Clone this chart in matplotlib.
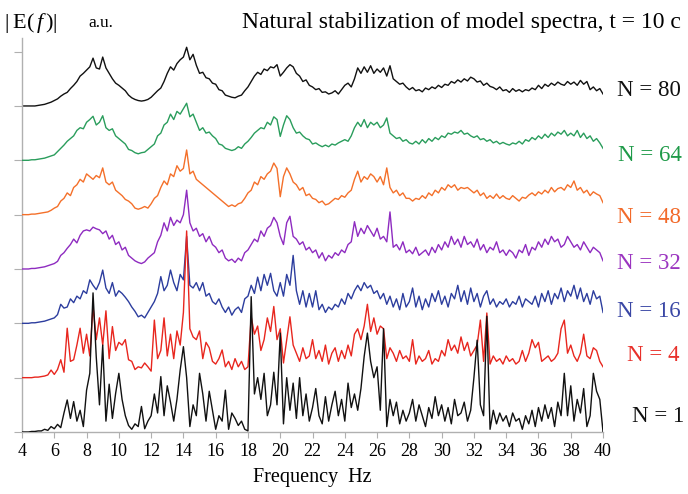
import numpy as np
import matplotlib
matplotlib.use("Agg")
import matplotlib.pyplot as plt

# frequency grid, 0.2 Hz step from 4 to 40 Hz
freq = np.round(np.arange(4.0, 40.01, 0.2), 1)

# spectra (a.u.), one row per 2 Hz
n1 = [
    0, 0, 0, 0.01, 0.01, 0.02, 0.02, 0.05, 0.03, 0.1,
    0.06, 0.14, 0.08, 0.35, 0.59, 0.25, 0.56, 0.2, 0.4, 0.1,
    0.77, 1.08, 2.56, 1.38, 0.5, 1.6, 0.2, 0.88, 0.25, 0.71,
    1.08, 0.6, 0.3, 0.12, 0.05, 0.15, 0.1, 0.47, 0.06, 0.2,
    0.3, 0.7, 0.35, 1.02, 0.3, 0.85, 0.55, 0.2, 0.6, 1.14,
    1.57, 1.0, 0.1, 0.5, 0.3, 1.08, 0.7, 0.2, 0.75, 0.4,
    0.05, 0.3, 0.2, 0.77, 0.05, 0.35, 0.25, 0.12, 0.2, 0.05,
    0.02, 2.49, 0.7, 1.0, 0.6, 1.08, 0.3, 0.5, 1.1, 0.5,
    1.82, 0.15, 1.0, 0.4, 0.9, 0.25, 1.0, 0.3, 0.7, 0.2,
    0.45, 0.8, 0.3, 0.15, 0.65, 0.2, 0.5, 0.75, 0.3, 0.6,
    0.2, 0.9, 0.45, 0.7, 0.4, 0.8, 1.39, 1.82, 1.3, 1.0,
    1.2, 0.4, 1.9, 0.1, 0.6, 0.3, 0.55, 0.15, 0.4, 0.2,
    0.35, 0.6, 0.2, 0.5, 0.3, 0.1, 0.45, 0.25, 0.65, 0.3,
    0.5, 0.2, 0.45, 0.15, 0.6, 0.3, 0.35, 0.55, 0.2, 0.4,
    1.0, 1.69, 0.5, 0.3, 2.13, 0.05, 0.4, 0.15, 0.35, 0.2,
    0.3, 0.1, 0.35, 0.2, 0.25, 0.05, 0.3, 0.15, 0.4, 0.1,
    0.45, 0.2, 0.5, 0.25, 0.45, 0.1, 0.55, 0.3, 1.08, 0.3,
    0.85, 0.2, 0.6, 0.35, 0.8, 0.1, 0.3, 1.08, 0.75, 0.6,
    0.0,
]
n4 = [
    0, 0, 0, 0, 0.01, 0.01, 0.02, 0.03, 0.05, 0.14,
    0.06, 0.15, 0.33, 0.1, 0.91, 0.3, 0.33, 0.6, 0.91, 0.45,
    0.8, 0.4, 1.31, 0.7, 1.1, 0.6, 1.23, 0.35, 0.94, 0.5,
    0.65, 0.6, 0.7, 0.33, 0.3, 0.15, 0.2, 0.18, 0.27, 0.2,
    0.12, 1.06, 0.35, 0.5, 1.1, 0.4, 0.8, 0.35, 0.86, 0.6,
    1.2, 2.7, 0.9, 0.75, 0.7, 0.86, 0.35, 0.65, 0.55, 0.3,
    0.25, 0.35, 0.51, 0.2, 0.3, 0.15, 0.35, 0.2, 0.3, 0.15,
    0.2, 1.12, 0.8, 0.95, 0.5, 0.7, 1.1, 0.85, 1.31, 0.7,
    0.9, 0.27, 0.7, 1.12, 0.6, 0.45, 0.3, 0.55, 0.35, 0.4,
    0.7, 0.35, 0.5, 0.3, 0.6, 0.25, 0.45, 0.55, 0.3, 0.5,
    0.35, 0.6, 0.4, 0.8, 0.9, 0.7, 0.95, 1.35, 0.85, 1.1,
    0.8, 0.95, 0.9, 0.35, 0.55, 0.45, 0.3, 0.5, 0.35, 0.4,
    0.3, 0.7, 0.25, 0.4, 0.3, 0.35, 0.5, 0.25, 0.35, 0.3,
    0.5, 0.4, 0.7, 0.5, 0.6, 0.45, 0.75, 0.5, 0.65, 0.4,
    0.5, 0.6, 1.06, 0.3, 1.19, 0.25, 0.4, 0.3, 0.35, 0.25,
    0.4, 0.3, 0.35, 0.25, 0.3, 0.5, 0.3, 0.45, 0.7, 0.55,
    0.65, 0.3, 0.35, 0.4, 0.3, 0.35, 0.45, 0.9, 1.06, 0.45,
    0.6, 0.4, 0.3, 0.45, 0.8, 0.4, 0.35, 0.55, 0.5, 0.3,
    0.2,
]
n16 = [
    0, 0, 0, 0.01, 0.01, 0.02, 0.03, 0.04, 0.06, 0.08,
    0.1, 0.16, 0.35, 0.28, 0.3, 0.45, 0.38, 0.5, 0.45, 0.6,
    0.55, 0.8, 0.7, 0.62, 0.75, 0.98, 0.65, 0.55, 0.75, 0.5,
    0.6, 0.55, 0.48, 0.4, 0.3, 0.22, 0.12, 0.15, 0.1, 0.2,
    0.3, 0.4, 0.55, 0.86, 0.6, 0.7, 0.98, 0.75, 0.6, 0.9,
    0.8, 1.6, 0.7, 0.65, 0.75, 0.6, 0.75, 0.5, 0.55, 0.4,
    0.35, 0.45, 0.3, 0.2, 0.3, 0.15, 0.25, 0.3, 0.2, 0.45,
    0.5, 0.7, 0.55, 0.85, 0.6, 0.9, 0.7, 0.92, 0.6, 0.5,
    0.75, 0.5, 0.9, 0.7, 1.25, 0.6, 0.35, 0.6, 0.3, 0.55,
    0.3, 0.6, 0.25, 0.35, 0.2, 0.3, 0.25, 0.35, 0.3, 0.45,
    0.35, 0.55, 0.45, 0.6, 0.7, 0.6, 0.75, 0.65, 0.7, 0.55,
    0.6, 0.45, 0.55, 0.35, 0.5, 0.3, 0.45, 0.25, 0.55, 0.3,
    0.4, 0.65, 0.3, 0.5, 0.25, 0.45, 0.3, 0.55, 0.4, 0.6,
    0.35, 0.5, 0.3, 0.55, 0.45, 0.7, 0.4, 0.6, 0.35, 0.65,
    0.4, 0.55, 0.3, 0.5, 0.6, 0.35, 0.45, 0.3, 0.4, 0.35,
    0.45, 0.3, 0.4, 0.35, 0.5, 0.3, 0.45, 0.4, 0.35, 0.5,
    0.3, 0.55, 0.4, 0.6, 0.35, 0.55, 0.45, 0.65, 0.4, 0.6,
    0.5, 0.7, 0.45, 0.65, 0.4, 0.55, 0.35, 0.6, 0.45, 0.5,
    0.2,
]
n32 = [
    0, 0, 0, 0.01, 0.01, 0.02, 0.03, 0.04, 0.06, 0.08,
    0.1, 0.14, 0.25, 0.3, 0.38, 0.45, 0.55, 0.48, 0.62, 0.7,
    0.72, 0.7, 0.77, 0.74, 0.72, 0.65, 0.7, 0.55, 0.62, 0.45,
    0.5, 0.35, 0.4, 0.25, 0.2, 0.15, 0.12, 0.1, 0.13, 0.2,
    0.25, 0.3, 0.5, 0.62, 0.85, 0.7, 0.95, 0.8, 0.9, 0.85,
    1.0, 1.45, 0.85, 0.7, 0.75, 0.6, 0.65, 0.5, 0.6, 0.45,
    0.4, 0.3, 0.35, 0.2, 0.15, 0.18, 0.12, 0.2, 0.15, 0.3,
    0.35, 0.45, 0.55, 0.5, 0.7, 0.6, 0.75, 0.8, 0.95, 0.85,
    0.6, 0.45, 0.85, 0.97, 0.6, 0.55, 0.45, 0.5, 0.35, 0.4,
    0.3, 0.35, 0.2, 0.3, 0.15, 0.25, 0.2, 0.3, 0.25, 0.35,
    0.3, 0.45, 0.5, 0.87, 0.6, 0.75, 0.65, 0.8, 0.7, 0.6,
    0.75, 0.55, 0.6, 0.5, 1.05, 0.4, 0.45, 0.35, 0.5, 0.3,
    0.35, 0.28, 0.4, 0.25, 0.3, 0.35, 0.25, 0.4, 0.3, 0.45,
    0.35, 0.5, 0.4, 0.6, 0.45, 0.55, 0.4, 0.6, 0.45, 0.5,
    0.4, 0.55, 0.35, 0.45, 0.3, 0.4, 0.35, 0.5, 0.3, 0.35,
    0.25, 0.35, 0.3, 0.2, 0.35, 0.3, 0.45, 0.25, 0.4, 0.35,
    0.5, 0.4, 0.55, 0.45, 0.6, 0.5, 0.55, 0.4, 0.45, 0.6,
    0.5, 0.4, 0.45, 0.35, 0.5, 0.4, 0.3, 0.4, 0.35, 0.3,
    0.15,
]
n48 = [
    0, 0, 0, 0.01, 0.01, 0.02, 0.03, 0.04, 0.05, 0.08,
    0.12, 0.15, 0.25, 0.3, 0.4, 0.35, 0.5, 0.55, 0.65, 0.6,
    0.75, 0.7, 0.65, 0.72, 0.68, 0.86, 0.6, 0.55, 0.6, 0.45,
    0.4, 0.35, 0.28, 0.25, 0.2, 0.12, 0.1, 0.12, 0.15, 0.12,
    0.2, 0.3, 0.35, 0.5, 0.62, 0.55, 0.75, 0.7, 0.9, 0.8,
    0.85, 1.19, 0.75, 0.8, 0.65, 0.6, 0.55, 0.5, 0.45, 0.4,
    0.35, 0.3, 0.25, 0.2, 0.15, 0.18, 0.15, 0.2, 0.22, 0.3,
    0.4, 0.45, 0.6, 0.55, 0.7, 0.65, 0.75, 0.8, 0.95, 0.85,
    0.33, 0.7, 0.86, 0.75, 0.6, 0.55, 0.45, 0.5, 0.35, 0.38,
    0.3, 0.28, 0.22, 0.25, 0.18, 0.2, 0.25, 0.3, 0.28, 0.35,
    0.32, 0.4, 0.45, 0.65, 0.8, 0.6, 0.7, 0.65, 0.75, 0.7,
    0.6, 0.7, 0.55, 0.86, 0.5, 0.4, 0.45, 0.35, 0.4, 0.3,
    0.3, 0.25, 0.3, 0.28, 0.35, 0.3, 0.4, 0.35, 0.45, 0.4,
    0.5, 0.45, 0.55, 0.5, 0.55, 0.45, 0.5, 0.48, 0.5, 0.45,
    0.4, 0.45, 0.35, 0.4, 0.3, 0.35, 0.3, 0.38, 0.3, 0.35,
    0.3, 0.28, 0.35, 0.3, 0.25, 0.32, 0.3, 0.36, 0.4, 0.35,
    0.42, 0.38, 0.45, 0.4, 0.5, 0.42, 0.48, 0.5, 0.45, 0.55,
    0.5, 0.62, 0.45, 0.5, 0.4, 0.45, 0.35, 0.42, 0.38, 0.35,
    0.22,
]
n64 = [
    0, 0, 0, 0.01, 0.01, 0.02, 0.03, 0.04, 0.06, 0.08,
    0.1, 0.16, 0.22, 0.28, 0.35, 0.4, 0.45, 0.55, 0.6, 0.58,
    0.7, 0.75, 0.81, 0.65, 0.7, 0.82, 0.6, 0.55, 0.58, 0.45,
    0.4, 0.35, 0.3, 0.2, 0.18, 0.14, 0.12, 0.14, 0.15, 0.2,
    0.25, 0.3, 0.45, 0.5, 0.65, 0.7, 0.85, 0.75, 0.9, 0.85,
    0.95, 1.05, 0.8, 0.85, 0.7, 0.55, 0.6, 0.5, 0.52, 0.45,
    0.4, 0.3, 0.28, 0.22, 0.2, 0.18, 0.2, 0.25, 0.22, 0.3,
    0.35, 0.42, 0.5, 0.55, 0.6, 0.58, 0.7, 0.65, 0.8, 0.75,
    0.44, 0.65, 0.82, 0.75, 0.6, 0.5, 0.52, 0.45, 0.4, 0.38,
    0.3, 0.32, 0.28, 0.25, 0.28, 0.25, 0.3, 0.28, 0.32, 0.35,
    0.38, 0.35, 0.45, 0.6, 0.7, 0.62, 0.75, 0.6, 0.7, 0.65,
    0.7, 0.6, 0.65, 0.78, 0.5, 0.45, 0.4, 0.42, 0.35, 0.38,
    0.32, 0.3, 0.35, 0.3, 0.38, 0.32, 0.4, 0.35, 0.42, 0.38,
    0.45, 0.42, 0.5, 0.48, 0.52, 0.5, 0.55, 0.48, 0.5, 0.45,
    0.42, 0.45, 0.38, 0.4, 0.35, 0.38, 0.32, 0.35, 0.3, 0.33,
    0.3, 0.28, 0.32, 0.3, 0.35, 0.3, 0.38, 0.35, 0.42, 0.38,
    0.45, 0.4, 0.48, 0.42, 0.5, 0.45, 0.52, 0.48, 0.55, 0.45,
    0.5, 0.45, 0.55, 0.42, 0.5, 0.4, 0.45, 0.35, 0.4, 0.32,
    0.22,
]
n80 = [
    0, 0, 0, 0, 0, 0.01, 0.02, 0.03, 0.05, 0.07,
    0.1, 0.13, 0.18, 0.22, 0.25, 0.32, 0.38, 0.45, 0.55, 0.6,
    0.66, 0.72, 0.88, 0.7, 0.68, 0.9, 0.7, 0.6, 0.5, 0.42,
    0.38, 0.33, 0.28, 0.2, 0.15, 0.12, 0.1, 0.09, 0.1, 0.12,
    0.16, 0.22, 0.28, 0.33, 0.45, 0.6, 0.72, 0.66, 0.78, 0.85,
    0.9, 1.08, 0.85, 0.95, 0.75, 0.6, 0.62, 0.52, 0.5, 0.42,
    0.4, 0.3, 0.28, 0.2, 0.18, 0.16, 0.15, 0.18, 0.2, 0.28,
    0.35, 0.45, 0.55, 0.62, 0.58, 0.68, 0.65, 0.72, 0.7, 0.76,
    0.55, 0.62, 0.7, 0.76, 0.72, 0.6, 0.55, 0.45, 0.48, 0.38,
    0.35, 0.3, 0.32, 0.25, 0.26, 0.22, 0.24, 0.28, 0.22, 0.3,
    0.38, 0.42, 0.35, 0.5, 0.7, 0.6, 0.72, 0.62, 0.74, 0.6,
    0.68, 0.62, 0.7, 0.55, 0.74, 0.5, 0.45, 0.4, 0.42, 0.35,
    0.3, 0.34, 0.28, 0.3, 0.26, 0.33, 0.3, 0.35, 0.32, 0.38,
    0.34, 0.4, 0.38, 0.45, 0.42, 0.48, 0.44, 0.5, 0.46, 0.53,
    0.5, 0.44, 0.46, 0.38, 0.42, 0.36, 0.34, 0.3, 0.35, 0.28,
    0.3, 0.25, 0.32, 0.27, 0.3, 0.26, 0.3, 0.28, 0.33, 0.3,
    0.38, 0.32, 0.4, 0.36, 0.42, 0.38, 0.44, 0.4, 0.38, 0.45,
    0.4, 0.44, 0.38, 0.47, 0.4, 0.45, 0.3, 0.35, 0.28, 0.32,
    0.22,
]

labels = ["N = 80", "N = 64", "N = 48", "N = 32", "N = 16", "N = 4", "N = 1"]
spectra = [n80, n64, n48, n32, n16, n4, n1]
line_colors = ["#111111", "#2a9d5c", "#f4702a", "#8e2bc0", "#2c3d9e", "#e8261e", "#111111"]
text_colors = ["#111111", "#1e9a48", "#f26a2a", "#9b35c0", "#3a47a5", "#e8302a", "#111111"]

plt.rcParams["font.family"] = ["Liberation Serif", "DejaVu Serif"]
plt.rcParams["mathtext.fontset"] = "custom"
plt.rcParams["mathtext.rm"] = "Liberation Serif"
plt.rcParams["mathtext.it"] = "Liberation Serif:italic"

fig = plt.figure(figsize=(6.88, 4.94), dpi=100)
ax = fig.add_axes([0.032, 0.1255, 0.8445, 0.7975])

n_curves = len(spectra)
for k, (vals, col) in enumerate(zip(spectra, line_colors)):
    offset = n_curves - 1 - k
    ax.plot(freq, np.asarray(vals) + offset, color=col, lw=1.0, zorder=2 + k)

ax.set_xlim(4, 40)
ax.set_ylim(0, 7.25)
ax.set_xticks(np.arange(4, 41, 2))
ax.set_yticks(np.arange(0, 8, 1))
ax.set_yticklabels([])
ax.tick_params(axis="x", labelsize=13, length=4, color="#b0b0b0", pad=4)
ax.tick_params(axis="y", length=6, color="#b0b0b0")
for s in ["top", "right"]:
    ax.spines[s].set_visible(False)
for s in ["left", "bottom"]:
    ax.spines[s].set_color("#b0b0b0")
    ax.spines[s].set_linewidth(1.0)
ax.set_xlabel("Frequency  Hz", fontsize=14.5, labelpad=6)

# right-hand labels, x in figure fraction, y in data units
trans = matplotlib.transforms.blended_transform_factory(fig.transFigure, ax.transData)
label_x = [0.897, 0.898, 0.897, 0.897, 0.897, 0.911, 0.919]
label_y = [6.28, 5.08, 3.94, 3.11, 2.21, 1.4, 0.28]
for txt, lx, ly, col in zip(labels, label_x, label_y, text_colors):
    ax.text(lx, ly, txt, transform=trans, color=col, fontsize=16.5,
            ha="left", va="center")

fig.text(0.99, 0.955, "Natural stabilization of model spectra, t = 10 c",
         fontsize=17, ha="right", va="center")
fig.text(0.006, 0.953, r"$|\;\mathrm{E}(\,f\,)|$", fontsize=16, ha="left", va="center")
fig.text(0.128, 0.953, "a.u.", fontsize=12.5, ha="left", va="center")

fig.savefig("out.png", dpi=100)
